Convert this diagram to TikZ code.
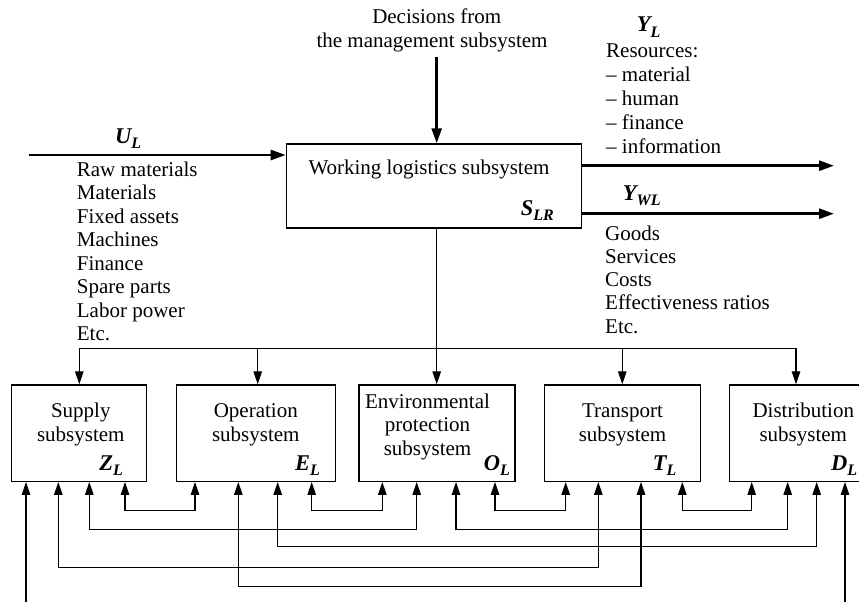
\documentclass[tikz,border=0pt]{standalone}
\usepackage{fontspec}
\setmainfont{Liberation Serif}
\usetikzlibrary{arrows.meta}
\newcommand\lbl[2]{{\fontsize{22.5}{24}\selectfont\bfseries\itshape #1\raisebox{-0.26em}{\fontsize{16}{17}\selectfont #2}}}
\begin{document}
\begin{tikzpicture}[x=1pt,y=-1pt,
  txt/.style={font=\fontsize{21}{23.5}\selectfont, inner sep=0pt},
  box/.style={draw, line width=1.25pt, anchor=north west, inner sep=0pt, minimum height=96.4pt},
  thinline/.style={line width=1.25pt},
  thinarr/.style={thinline, -{Triangle[length=13pt,width=8.5pt]}},
  twoarr/.style={thinline, {Triangle[length=13pt,width=8.5pt]}-{Triangle[length=13pt,width=8.5pt]}},
  thickarr/.style={line width=2.6pt, -{Triangle[length=15pt,width=10pt]}},
  lab/.style={inner sep=0pt}
]
\useasboundingbox (0,0) rectangle (859,602);
\clip (0,0) rectangle (859,602);

% boxes
\node[box, minimum width=295pt, minimum height=84pt] (slr) at (285.7,143.3) {};
\node[box, minimum width=135.3pt] (sup) at (10.7,384.3) {};
\node[box, minimum width=159.3pt] (op) at (175.7,384.3) {};
\node[box, minimum width=156pt] (env) at (358.3,384.3) {};
\node[box, minimum width=156pt] (tra) at (544,384.3) {};
\node[box, minimum width=150pt] (dis) at (728.5,384.3) {};

% box texts
\node[txt, anchor=base] (slrt) at (429,174) {Working logistics subsystem};
\node[txt, anchor=base] (supt1) at (80.8,417.5) {Supply};
\node[txt, anchor=base] (supt2) at (80.8,441) {subsystem};
\node[txt, anchor=base] (opt1) at (255.8,417.5) {Operation};
\node[txt, anchor=base] (opt2) at (255.8,441) {subsystem};
\node[txt, anchor=base] (envt1) at (427.5,408.3) {Environmental};
\node[txt, anchor=base] (envt2) at (427.5,431.7) {protection};
\node[txt, anchor=base] (envt3) at (427.5,455) {subsystem};
\node[txt, anchor=base] (trat1) at (622.5,417.5) {Transport};
\node[txt, anchor=base] (trat2) at (622.5,441) {subsystem};
\node[txt, anchor=base] (dist1) at (803.3,417.5) {Distribution};
\node[txt, anchor=base] (dist2) at (803.3,441) {subsystem};

% labels
\node[lab, anchor=base east] (slrl) at (554,215) {\lbl{S}{LR}};
\node[lab, anchor=base east] (supl) at (123,470) {\lbl{Z}{L}};
\node[lab, anchor=base east] (opl) at (320,470) {\lbl{E}{L}};
\node[lab, anchor=base east] (envl) at (510,470) {\lbl{O}{L}};
\node[lab, anchor=base east] (tral) at (676.7,470) {\lbl{T}{L}};
\node[lab, anchor=base west] (disl) at (831,470) {\lbl{D}{L}};
\node[lab, anchor=base west] (ul) at (115,143) {\lbl{U}{L}};
\node[lab, anchor=base west] (yl) at (636.7,32) {\lbl{Y}{L}};
\node[lab, anchor=base west] (ywl) at (622.7,200) {\lbl{Y}{WL}};

% decisions
\node[txt, anchor=base] (dec1) at (436.7,24) {Decisions from};
\node[txt, anchor=base] (dec2) at (432,48) {the management subsystem};

% lists
\foreach \t [count=\i] in {Raw materials, Materials, Fixed assets, Machines, Finance, Spare parts, Labor power, Etc.}
  \node[txt, anchor=base west] (in\i) at (76.7, {176+23.5*(\i-1)}) {\t};
\foreach \t [count=\i] in {Resources:, – material, – human, – finance, – information}
  \node[txt, anchor=base west] (res\i) at (606, {58+23.8*(\i-1)}) {\t};
\foreach \t [count=\i] in {Goods, Services, Costs, Effectiveness ratios, Etc.}
  \node[txt, anchor=base west] (out\i) at (605, {240+23.25*(\i-1)}) {\t};

% thick arrows
\coordinate (ulsrc) at (29,155);
\draw[thickarr] (ulsrc) -- (ulsrc -| slr.west);
\coordinate (ylend) at (834,165.7);
\draw[thickarr] (ylend -| slr.east) -- (ylend);
\coordinate (ywlend) at (834,213.7);
\draw[thickarr] (ywlend -| slr.east) -- (ywlend);
\coordinate (decsrc) at (436.7,56.7);
\draw[thickarr] (decsrc) -- (decsrc |- slr.north);

% bus
\coordinate (b1) at (79.3,348.3);
\coordinate (b2) at (257.7,348.3);
\coordinate (b3) at (436.7,348.3);
\coordinate (b4) at (622.3,348.3);
\coordinate (b5) at (796,348.3);
\draw[thinline] (b3 |- slr.south) -- (b3);
\draw[thinline] (b1) -- (b5);
\foreach \b/\n in {b1/sup,b2/op,b3/env,b4/tra,b5/dis}
  \draw[thinarr] (\b) -- (\b |- \n.north);

% bottom network
\foreach \a/\xa/\b/\xb/\d in {sup/114.3/op/19.3/28.5, op/136/env/24/28.5, env/136.7/tra/21.7/28.5, tra/138.3/dis/23.2/28.5,
  sup/78.6/env/58.4/47.5, env/97.7/dis/59.2/47.5, op/102/dis/88.2/64.5, sup/47.6/tra/54.3/85.5, op/62.6/tra/97/104.5}
  \draw[twoarr] ([xshift=\xa pt]\a.south west) -- ++(0,\d) -| ([xshift=\xb pt]\b.south west);

\coordinate (zsrc) at (26,602);
\draw[thinarr] (zsrc) -- (zsrc |- sup.south);
\coordinate (dsrc) at (845,602);
\draw[thinarr] (dsrc) -- (dsrc |- dis.south);
\end{tikzpicture}
\end{document}
